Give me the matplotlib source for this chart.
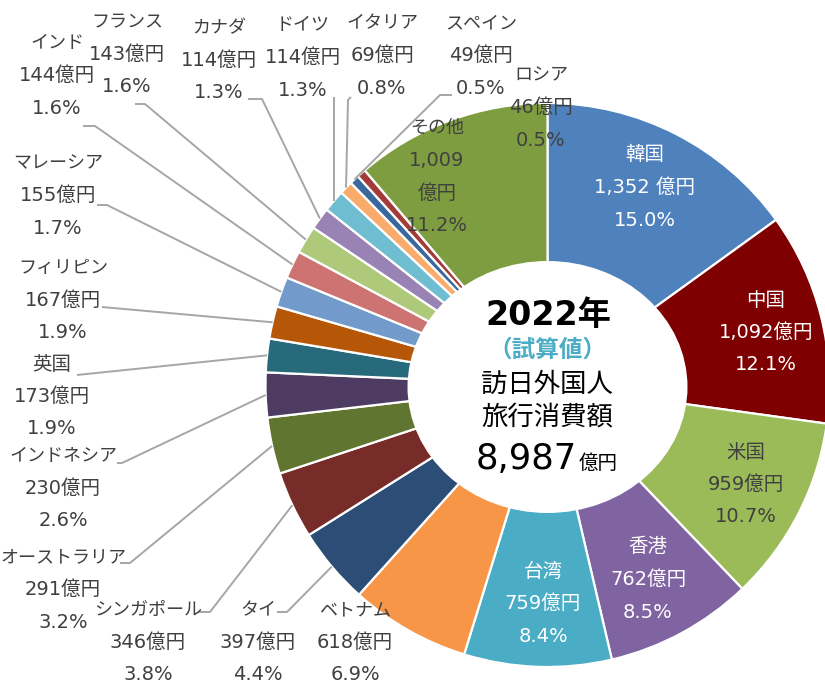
import numpy as np
import matplotlib.pyplot as plt
from matplotlib.patches import Ellipse

# DejaVu for the wide Latin digits, Noto CJK for kana / kanji
plt.rcParams['font.family'] = ['DejaVu Sans', 'Noto Sans CJK JP']

# --------------------------------------------------------------------------
# Data (2022, 億円) -- clockwise from 12 o'clock
# --------------------------------------------------------------------------
countries = ["韓国", "中国", "米国", "香港", "台湾", "ベトナム", "タイ",
             "シンガポール", "オーストラリア", "インドネシア", "英国",
             "フィリピン", "マレーシア", "インド", "フランス", "カナダ",
             "ドイツ", "イタリア", "スペイン", "ロシア", "その他"]
values = [1352, 1092, 959, 762, 759, 618, 397, 346, 291, 230, 173,
          167, 155, 144, 143, 114, 114, 69, 49, 46, 1009]
shares = [15.0, 12.1, 10.7, 8.5, 8.4, 6.9, 4.4, 3.8, 3.2, 2.6, 1.9,
          1.9, 1.7, 1.6, 1.6, 1.3, 1.3, 0.8, 0.5, 0.5, 11.2]
colors = ["#4F81BD", "#7F0000", "#9BBB59", "#8064A2", "#4BACC6", "#F79646",
          "#2C4D75", "#772C2A", "#5F7530", "#4D3B62", "#276A7C", "#B65708",
          "#729ACA", "#CD7371", "#AFC97A", "#9983B5", "#6FBDD1", "#F9AB6B",
          "#3A679C", "#A33B38", "#7E9D40"]

year_text = "2022年"
sub_text = "（試算値）"
title_lines = ["訪日外国人", "旅行消費額"]
total_text = "8,987"
unit = "億円"

# --------------------------------------------------------------------------
# Layout (pixel coordinates, y measured from top)
# --------------------------------------------------------------------------
W, H = 825, 683
CX, CY, R = 547.5, 385, 282
DARK = "#404040"
LEADER = "#A6A6A6"
FS = 14
FS_KANA = 13
LINE = 32.5

# name -> (x, y of first line, colour, leader start points or None)
label_layout = {
    "韓国":          (645, 155, "white", None),
    "中国":          (766, 300, "white", None),
    "米国":          (746, 452, DARK, None),
    "香港":          (648, 547, "white", None),
    "台湾":          (543, 571, "white", None),
    "ベトナム":       (355, 610, DARK, None),
    "タイ":          (258, 610, DARK, [(277, 612), (287, 612)]),
    "シンガポール":    (148, 610, DARK, [(198, 612), (210, 612)]),
    "オーストラリア":  (63, 557, DARK, [(120, 563), (130, 563)]),
    "インドネシア":    (63, 456, DARK, [(117, 463), (122, 463)]),
    "英国":          (52, 364, DARK, [(77, 375)]),
    "フィリピン":     (63, 268, DARK, [(102, 307)]),
    "マレーシア":     (58, 163, DARK, [(97, 205), (107, 205)]),
    "インド":        (57, 43, DARK, [(83, 126), (95, 126)]),
    "フランス":       (127, 22, DARK, [(135, 104), (145, 104)]),
    "カナダ":        (219, 28, DARK, [(248, 99), (262, 99)]),
    "ドイツ":        (303, 25, DARK, [(334, 97)]),
    "イタリア":       (382, 23, DARK, [(351, 97), (348, 100)]),
    "スペイン":       (481, 23, DARK, [(452, 95), (440, 95)]),
    "ロシア":        (541, 75, DARK, None),
    "その他":        (437, 128, DARK, None),
}
kanji_names = {"韓国", "中国", "米国", "香港", "台湾", "英国"}


def fy(y):
    return H - y


fig = plt.figure(figsize=(W / 100, H / 100), dpi=100)
ax = fig.add_axes([0, 0, 1, 1])

ax.pie(values, colors=colors, startangle=90, counterclock=False,
       center=(CX, fy(CY)), radius=R, frame=True,
       wedgeprops=dict(edgecolor="white", linewidth=1.6))
ax.set_xlim(0, W)
ax.set_ylim(0, H)
ax.axis("off")

# white centre
ax.add_patch(Ellipse((547.5, fy(387)), 280, 252, facecolor="white",
                     edgecolor="none", zorder=3))

# labels
total = sum(values)
cum = np.cumsum([0] + values[:-1])
for name, v, s, c0 in zip(countries, values, shares, cum):
    x, y, col, leader = label_layout[name]
    if name == "その他":
        lines = [name, f"{v:,}", unit, f"{s:.1f}%"]
    elif name == "韓国":
        lines = [name, f"{v:,} {unit}", f"{s:.1f}%"]
    else:
        lines = [name, f"{v:,}{unit}", f"{s:.1f}%"]
    for i, t in enumerate(lines):
        fs = FS if (i > 0 or name in kanji_names) else FS_KANA
        ax.text(x, fy(y + i * LINE), t, ha="center", va="center",
                fontsize=fs, color=col, zorder=5)
    if leader:
        mid = (c0 + v / 2) / total
        ang = np.deg2rad(90 - 360 * mid)
        ex = CX + R * np.cos(ang)
        ey = fy(CY) + R * np.sin(ang)
        xs = [p[0] for p in leader] + [ex]
        ys = [fy(p[1]) for p in leader] + [ey]
        if len(leader) == 1 and name == "ドイツ":
            xs[-1] = leader[0][0]
        ax.plot(xs, ys, color=LEADER, linewidth=1.4, zorder=2,
                solid_capstyle="butt")

# centre text
ax.text(548, fy(315), year_text, ha="center", va="center", fontsize=24,
        fontweight="bold", color="black", zorder=5)
ax.text(547, fy(350), sub_text, ha="center", va="center", fontsize=17,
        fontweight="bold", color="#4BACC6", zorder=5)
for i, t in enumerate(title_lines):
    ax.text(547, fy(385 + i * 33), t, ha="center", va="center", fontsize=19,
            color="black", zorder=5)
ax.text(577, fy(469), total_text, ha="right", va="baseline", fontsize=25.5,
        color="black", zorder=5)
ax.text(579, fy(469), unit, ha="left", va="baseline", fontsize=14,
        color="black", zorder=5)

fig.savefig("out.png", dpi=100)
